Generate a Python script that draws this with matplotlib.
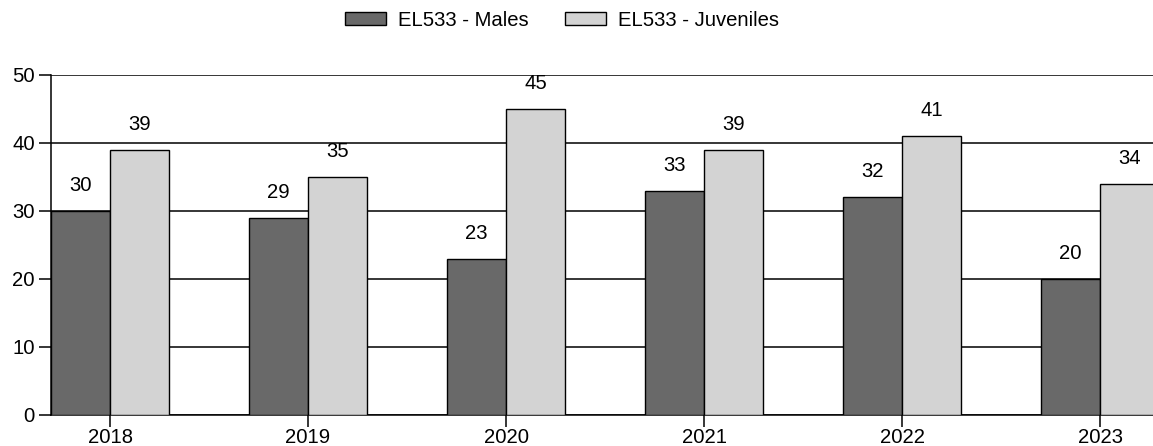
import matplotlib
matplotlib.use("Agg")
import matplotlib.pyplot as plt
import numpy as np

plt.rcParams['font.family'] = ['Liberation Sans', 'DejaVu Sans']

years = ["2018", "2019", "2020", "2021", "2022", "2023"]
males = [30, 29, 23, 33, 32, 20]
juveniles = [39, 35, 45, 39, 41, 34]
series_names = ["EL533 - Males", "EL533 - Juveniles"]
colors = ["#696969", "#d3d3d3"]

FS = 14.6

fig = plt.figure(figsize=(11.53, 4.46), dpi=100)
ax = fig.add_axes([51/1153, 31/446, 1102/1153, 340/446])

x = np.arange(len(years))
w = 0.3
b1 = ax.bar(x - w/2, males, w, color=colors[0], edgecolor="black", linewidth=1.0,
            label=series_names[0], zorder=3)
b2 = ax.bar(x + w/2, juveniles, w, color=colors[1], edgecolor="black", linewidth=1.0,
            label=series_names[1], zorder=3)

for bars, vals in ((b1, males), (b2, juveniles)):
    for r, v in zip(bars, vals):
        ax.annotate(str(v), (r.get_x() + r.get_width()/2, v), xytext=(0, 14.4),
                    textcoords="offset points", ha="center", va="baseline",
                    fontsize=FS, color="black")

ax.set_xlim(-0.298, -0.298 + 1102/198)
ax.set_ylim(0, 50)
ax.set_yticks([0, 10, 20, 30, 40, 50])
ax.set_xticks(x)
ax.set_xticklabels(years)
ax.tick_params(axis="both", labelsize=FS, length=8.6, width=1.1, direction="out",
               colors="black")
ax.tick_params(axis="y", pad=3)
ax.tick_params(axis="x", pad=1)
ax.yaxis.grid(True, color="black", linewidth=1.1, zorder=0)
ax.set_axisbelow(True)
for s in ("top", "right"):
    ax.spines[s].set_visible(False)
for s in ("left", "bottom"):
    ax.spines[s].set_linewidth(1.1)
    ax.spines[s].set_color("black")

fig.legend(handles=[b1, b2], labels=series_names, loc="center",
           bbox_to_anchor=(562/1153, 1 - 20/446), ncol=2, frameon=False,
           fontsize=FS, handlelength=2.0, handleheight=0.65, handletextpad=0.6,
           columnspacing=1.8)

fig.savefig("out.png", dpi=100)
